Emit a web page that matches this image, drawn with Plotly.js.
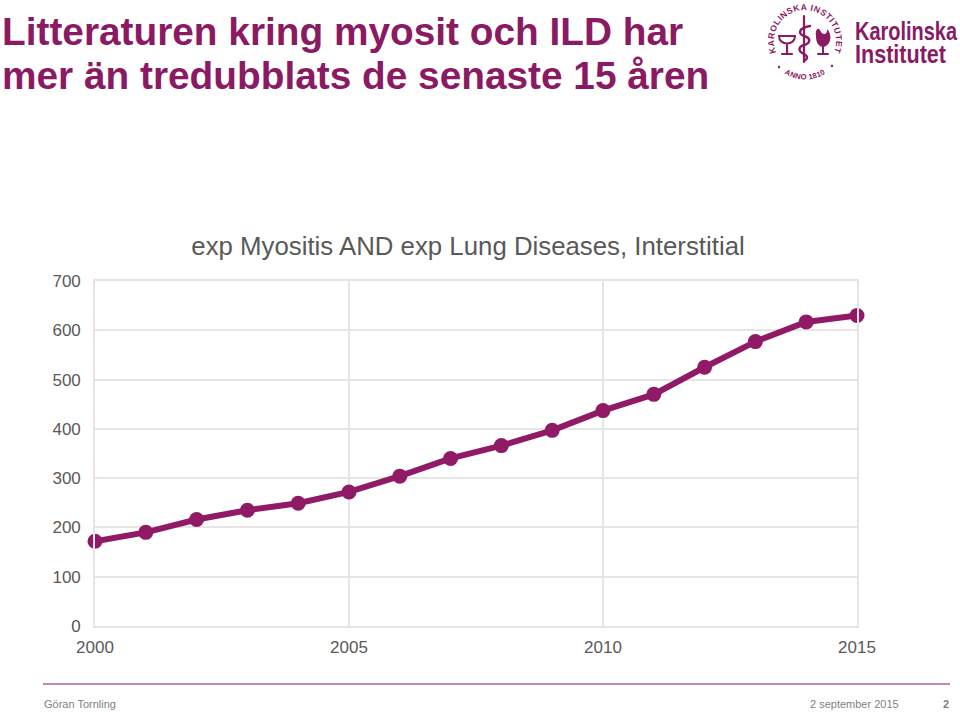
<!DOCTYPE html>
<html><head><meta charset="utf-8">
<script src="https://cdn.plot.ly/plotly-3.0.1.min.js"></script>
<style>html,body{margin:0;padding:0;background:#fff;overflow:hidden}#wrap{position:relative;width:960px;height:712px}#chart{width:960px;height:712px}#seal{position:absolute;left:766px;top:0;width:194px;height:84px}</style>
</head><body><div id="wrap"><div id="chart"></div>
<svg id="seal" viewBox="0 0 194 84" xmlns="http://www.w3.org/2000/svg">
<defs><path id="arcTop" d="M13.6,58.8 A31,31 0 1 1 64.4,58.8"/><path id="arcBot" d="M18,73.2 A38,38 0 0 0 60,73.2"/></defs>
<g fill="#8a1a63" font-family="Liberation Sans" font-weight="bold">
<text font-size="8.6" letter-spacing="0.55" text-anchor="middle"><textPath href="#arcTop" startOffset="50%">KAROLINSKA INSTITUTET</textPath></text>
<text font-size="7.6" letter-spacing="0.2" text-anchor="middle"><textPath href="#arcBot" startOffset="50%">ANNO 1810</textPath></text>
<circle cx="13" cy="67" r="1.2"/><circle cx="66" cy="66" r="1.2"/>
<text id="logo1" x="89" y="40" font-size="25" textLength="102" lengthAdjust="spacingAndGlyphs"></text>
<text id="logo2" x="89" y="63" font-size="25" textLength="91" lengthAdjust="spacingAndGlyphs"></text>
</g>
<g fill="none" stroke="#8a1a63" stroke-linecap="round">
<path d="M38,16 L38,62" stroke-width="2.2"/>
<path d="M44,26 C32,28 32,34 38,36 C45,38 45,43 38,45 C32,47 32,51 38,54 C42,56 42,59 38,61" stroke-width="2.4"/>
<path d="M13,36 L29,36 C29,46 13,46 13,36 Z" stroke-width="2"/>
<path d="M21,45 L21,53 M16,54 L26,54" stroke-width="2.2"/>
<path d="M52,54 L62,54 M57,54 L57,46" stroke-width="2"/>
</g>
<path d="M50,36 C49,30 52,27 54,30 C56,36 62,35 61,29 C66,34 66,44 58,47 C52,47 50,42 50,36 Z" fill="#8a1a63"/>
</svg>
</div>
<script>
const years = [2000,2001,2002,2003,2004,2005,2006,2007,2008,2009,2010,2011,2012,2013,2014,2015];
const articles = [172,190,216,235,249,272,304,340,366,397,437,470,525,577,617,630];
const xTicks = [2000,2005,2010,2015];
const yTicks = [0,100,200,300,400,500,600,700];
const headingLines = ["Litteraturen kring myosit och ILD har","mer än tredubblats de senaste 15 åren"];
const logoLines = ["Karolinska","Institutet"];
const chartTitle = "exp Myositis AND exp Lung Diseases, Interstitial";
const author = "Göran Tornling";
const dateText = "2 september 2015";
const slideNo = "2";

document.getElementById("logo1").textContent = logoLines[0];
document.getElementById("logo2").textContent = logoLines[1];

const W=960,H=712,L=95,R=103,T=280.5,B=86,plum="#8a1a63",line="#911a66",grid="#e6e4e4",txt="#595959",foot="#7f7f7f";
const PW=W-L-R,PH=H-T-B;
const px=x=>(x-L)/PW, py=y=>(H-B-y)/PH;
const ann=(text,x,y,size,color,xa,weight)=>({text,x:px(x),y:py(y),xref:"paper",yref:"paper",xanchor:xa,yanchor:"middle",showarrow:false,align:"left",font:{family:"Liberation Sans",size,color,weight:weight||"normal"}});

Plotly.newPlot("chart",[{
  type:"scatter",mode:"lines+markers",x:years,y:articles,cliponaxis:false,
  line:{color:line,width:6},marker:{color:line,size:15},hoverinfo:"x+y"
}],{
  width:W,height:H,paper_bgcolor:"#fff",plot_bgcolor:"#fff",showlegend:false,
  margin:{l:L,r:R,t:T,b:B,pad:0},
  font:{family:"Liberation Sans",color:txt,size:17},
  title:{text:chartTitle,font:{family:"Liberation Sans",size:25.8,color:txt},x:468/W,xanchor:"center",xref:"container",y:1-246/H,yanchor:"middle",yref:"container"},
  xaxis:{range:[2000,2015],tickvals:xTicks,ticktext:xTicks.map(String),showgrid:true,gridcolor:grid,gridwidth:1.6,zeroline:false,showline:true,linecolor:grid,linewidth:1.6,mirror:true,ticks:"",ticklen:0,tickfont:{size:17,color:txt},ticklabelstandoff:5,automargin:false},
  yaxis:{range:[0,700],tickvals:yTicks,ticktext:yTicks.map(String),showgrid:true,gridcolor:grid,gridwidth:1.6,zeroline:false,showline:true,linecolor:grid,linewidth:1.6,mirror:true,ticks:"",tickfont:{size:17,color:txt},ticklabelstandoff:9,automargin:false},
  shapes:[{type:"line",xref:"paper",yref:"paper",x0:px(43),x1:px(950),y0:py(684),y1:py(684),line:{color:"#a0688f",width:1.5}}],
  annotations:[
    ann(headingLines[0],0,30.5,38.8,plum,"left","bold"),
    ann(headingLines[1],0,75,38.8,plum,"left","bold"),
    ann(author,42,704,11,foot,"left"),
    ann(dateText,901,704,11,foot,"right"),
    ann(slideNo,951,704,11,foot,"right","bold")
  ]
},{displayModeBar:false,responsive:false});
</script></body></html>
